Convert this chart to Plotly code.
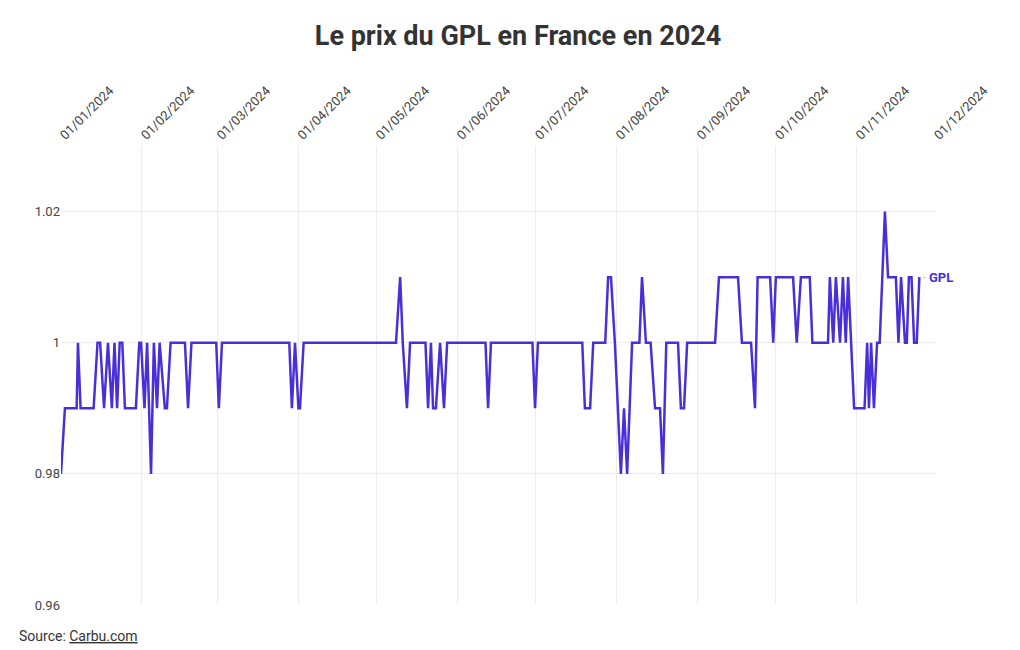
import plotly.graph_objects as go
import pandas as pd

# Jours depuis le 01/01/2024 et prix du GPL (€/L)
jours = [0, 1.5, 6, 6.5, 7.5, 12.5, 14, 15, 16.5, 18, 19.5, 20.5, 21.5, 22.5, 23.5, 24.5, 28.7,
         30, 30.7, 32, 33, 34.5, 35.6, 36.8, 37.8, 39.8, 40.6, 42, 47.5, 48.7, 50, 59.5, 60.5, 61.7,
         87.5, 88.5, 89.7, 91, 91.6, 93,
         128.4, 130, 131, 132.6, 133.8, 139.7, 140.7, 141.8, 142.6, 143.7, 145.3, 146.8, 148,
         162.7, 163.7, 164.8, 180.7, 181.7, 182.8, 199.8, 200.8, 202.8, 204, 208.6, 209.7, 210.8,
         212.3, 214.6, 215.8, 217, 218.9, 221.7, 222.7, 224.2, 226, 227.7, 229.6, 230.7, 232,
         236.5, 237.6, 238.8, 240, 250.7, 252.2, 259.5, 261, 264.5, 266, 267, 271.8, 273, 274,
         280.6, 282, 283.6, 287, 288, 294, 294.7, 296, 297, 298.6, 299.7, 300.8, 301.7, 304, 308,
         309, 309.7, 310.5, 311.6, 312.8, 313.8, 315.8, 317, 320, 321, 322, 323.5, 324.2, 325, 326,
         327, 328, 329]
prix = [0.98, 0.99, 0.99, 1.00, 0.99, 0.99, 1.00, 1.00, 0.99, 1.00, 0.99, 1.00, 0.99, 1.00, 1.00, 0.99, 0.99,
        1.00, 1.00, 0.99, 1.00, 0.98, 1.00, 0.99, 1.00, 0.99, 0.99, 1.00, 1.00, 0.99, 1.00, 1.00, 0.99, 1.00,
        1.00, 0.99, 1.00, 0.99, 0.99, 1.00,
        1.00, 1.01, 1.00, 0.99, 1.00, 1.00, 0.99, 1.00, 0.99, 0.99, 1.00, 0.99, 1.00,
        1.00, 0.99, 1.00, 1.00, 0.99, 1.00, 1.00, 0.99, 0.99, 1.00, 1.00, 1.01, 1.01,
        1.00, 0.98, 0.99, 0.98, 1.00, 1.00, 1.01, 1.00, 1.00, 0.99, 0.99, 0.98, 1.00,
        1.00, 0.99, 0.99, 1.00, 1.00, 1.01, 1.01, 1.00, 1.00, 0.99, 1.01, 1.01, 1.00, 1.01,
        1.01, 1.00, 1.01, 1.01, 1.00, 1.00, 1.01, 1.00, 1.01, 1.00, 1.01, 1.00, 1.01, 0.99, 0.99,
        1.00, 0.99, 1.00, 0.99, 1.00, 1.00, 1.02, 1.01, 1.01, 1.00, 1.01, 1.00, 1.00, 1.01, 1.01,
        1.00, 1.00, 1.01]

debut = pd.Timestamp("2024-01-01")
dates = [debut + pd.Timedelta(days=d) for d in jours]
ticks = pd.date_range("2024-01-01", "2024-12-01", freq="MS")
couleur = "#4a2fd9"

fig = go.Figure(go.Scatter(x=dates, y=prix, mode="lines", name="GPL",
                           line=dict(color=couleur, width=2.5, shape="linear"),
                           hoverinfo="x+y"))
fig.add_annotation(x=dates[-1], y=prix[-1], text="<b>GPL</b>", showarrow=False, xanchor="left",
                   xshift=8, font=dict(color=couleur, size=13))
fig.add_annotation(x=dates[-1], y=prix[-1], text="-", showarrow=False, xanchor="left",
                   xshift=2, font=dict(color="#bbb", size=11))
fig.update_layout(
    width=1020, height=650, paper_bgcolor="white", plot_bgcolor="white",
    margin=dict(l=53, r=93, t=138, b=53),
    font=dict(family="Roboto, sans-serif", color="#333", size=13),
    title=dict(text="<b>Le prix du GPL en France en 2024</b>", x=0.5, xanchor="center",
               yref="container", y=1 - 28 / 650, yanchor="middle",
               font=dict(size=27, color="#333")),
    showlegend=False,
    xaxis=dict(side="top", range=[ticks[0], ticks[-1]], tickvals=list(ticks),
               ticktext=[t.strftime("%d/%m/%Y") for t in ticks], tickangle=-45,
               showgrid=True, gridcolor="#ececec", zeroline=False, showline=False,
               automargin=False, tickfont=dict(size=13, color="#444")),
    yaxis=dict(range=[0.96, 1.03], tickvals=[0.96, 0.98, 1.00, 1.02],
               ticktext=["0.96", "0.98", "1", "1.02"], showgrid=True, gridcolor="#ececec",
               zeroline=False, ticks="", automargin=False, tickfont=dict(size=13, color="#444")),
)
fig.add_annotation(xref="paper", yref="paper", x=-0.05, y=-0.045, xanchor="left", yanchor="top",
                   text="Source: <u>Carbu.com</u>", showarrow=False, font=dict(size=14, color="#333"))
fig.write_html("out.html")
